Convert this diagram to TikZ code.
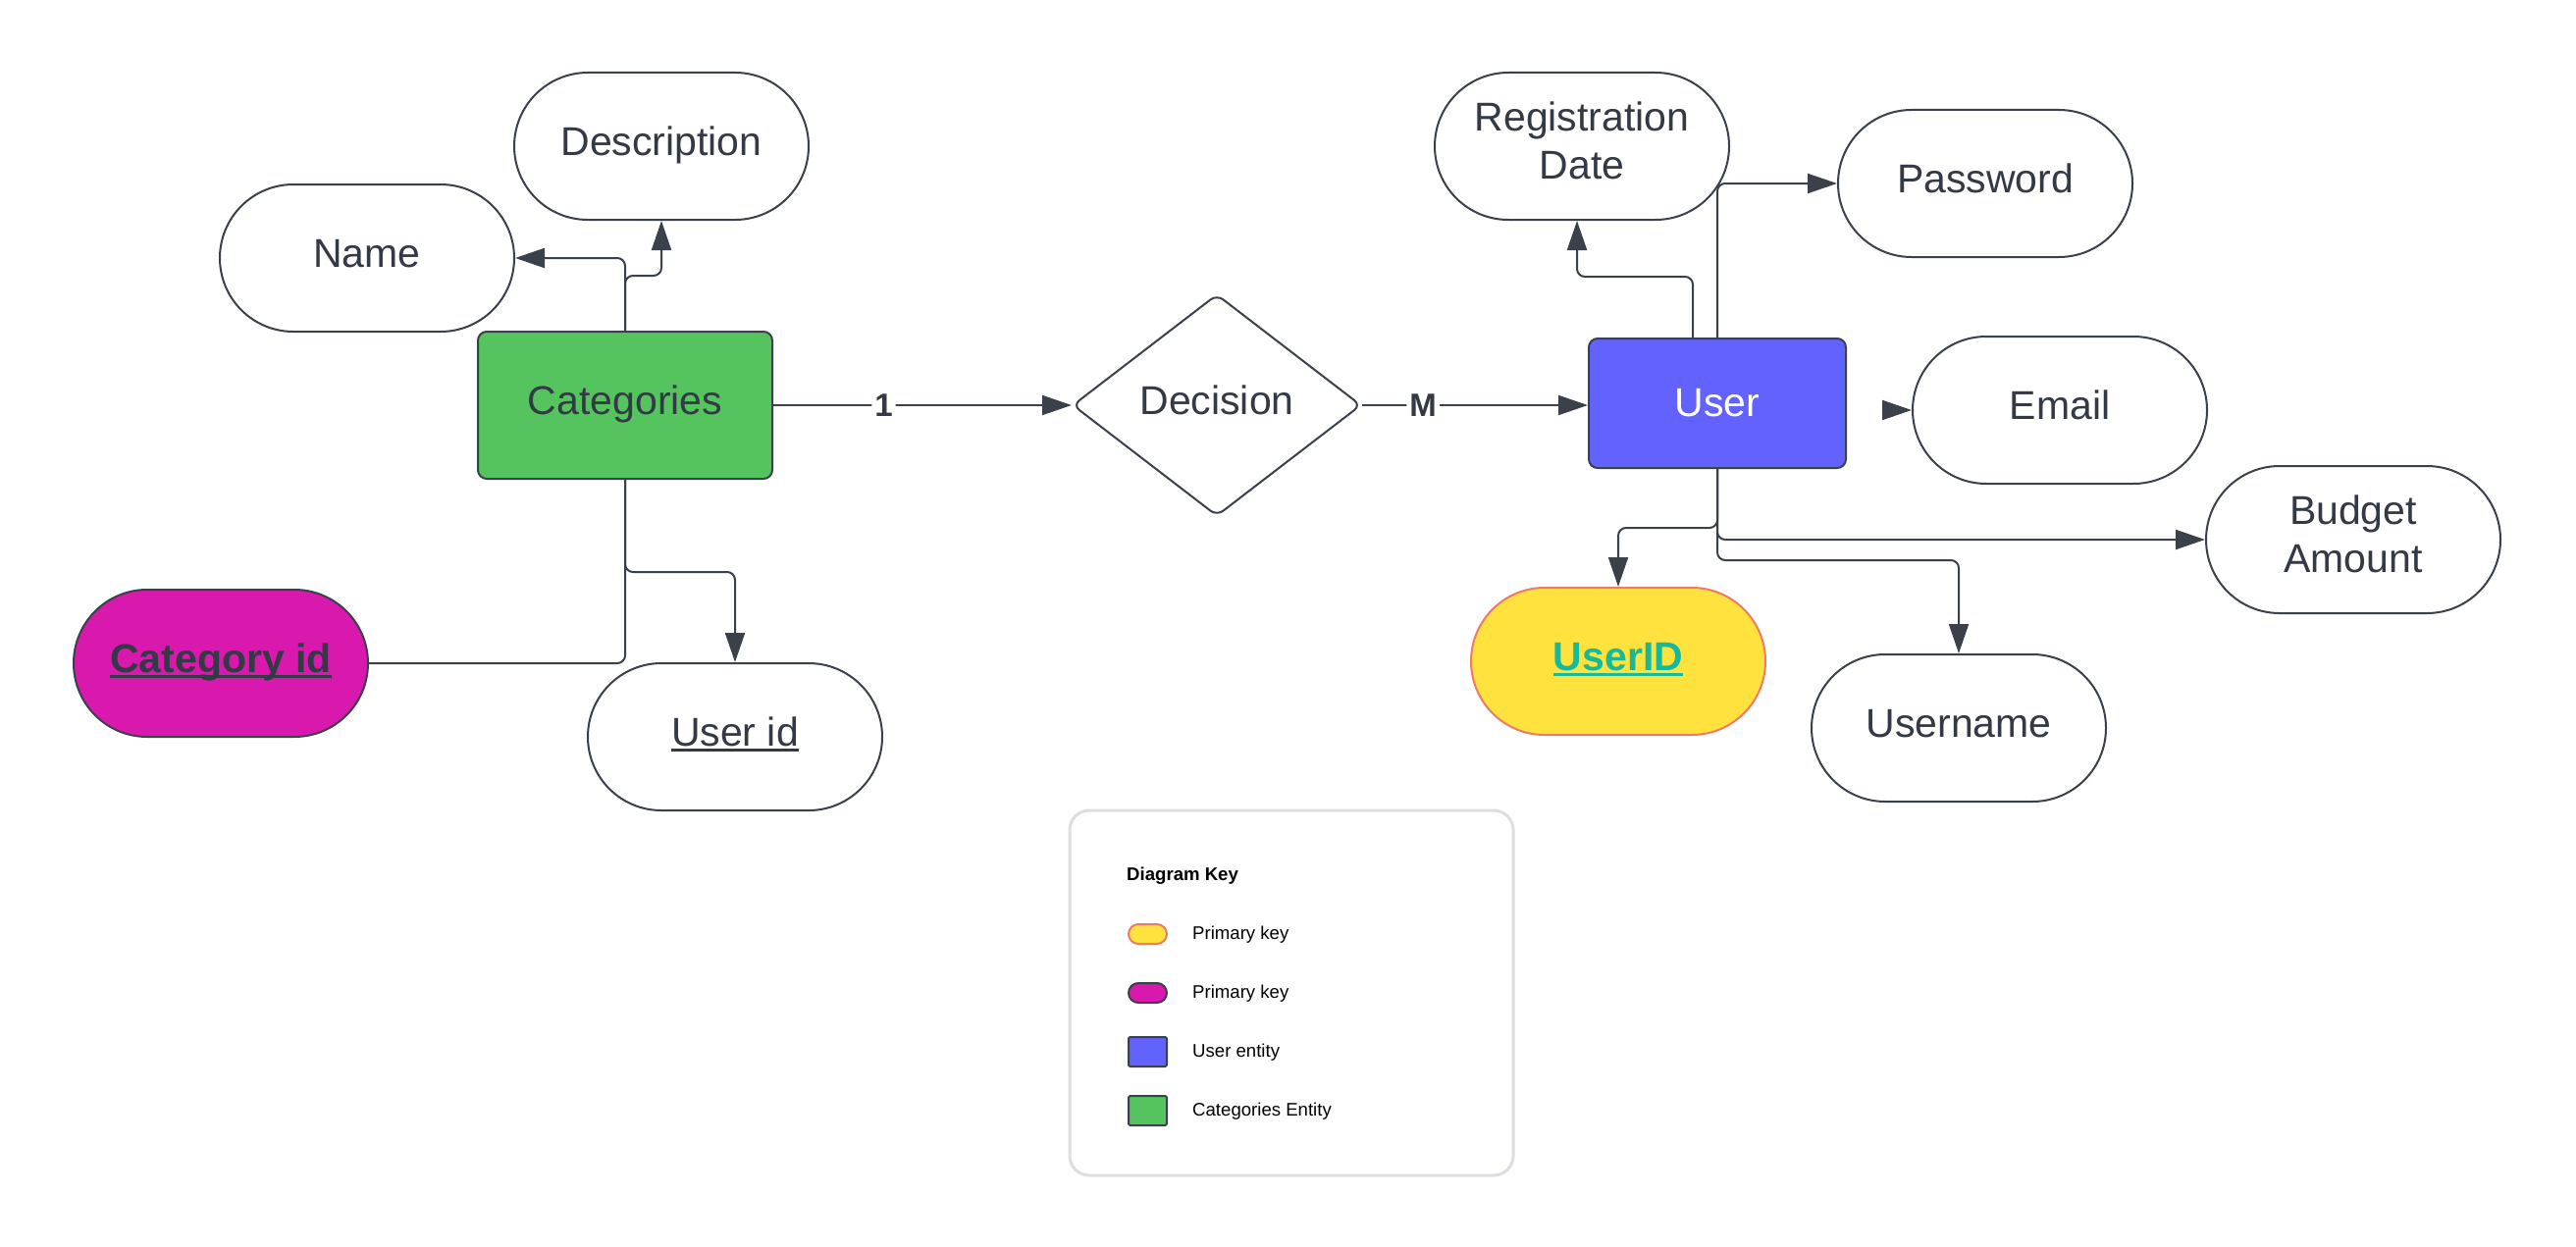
\documentclass[tikz,border=0pt]{standalone}
\usepackage{fontspec}
\setmainfont{Liberation Sans}
\usetikzlibrary{arrows.meta,shapes.geometric}
\definecolor{lncol}{HTML}{3A414A}
\definecolor{txtcol}{HTML}{333A45}
\definecolor{catgreen}{HTML}{55C45F}
\definecolor{usrblue}{HTML}{6262FF}
\definecolor{pkmag}{HTML}{D918AD}
\definecolor{pkyel}{HTML}{FFE23E}
\definecolor{pkyelbd}{HTML}{EF7B66}
\definecolor{uidteal}{HTML}{14BA9B}
\definecolor{keybd}{HTML}{DDDEE2}
\newcommand\myul[1]{\setbox0=\hbox{#1}\rlap{\rule[-6pt]{\wd0}{3pt}}\box0}
\newcommand\onest{\rule[-12pt]{0pt}{42pt}}
\newcommand\lastst{\rule[-11pt]{0pt}{11pt}}
\begin{document}
\begin{tikzpicture}[x=1pt,y=-1pt,
  base/.style={draw=lncol, line width=2pt, inner sep=0pt, align=center, text=txtcol, font=\fontsize{41}{49}\selectfont},
  attr/.style={base, fill=white, rounded corners=75pt, minimum width=300pt, minimum height=150pt},
  entity/.style={base, rounded corners=9pt, minimum width=300pt, minimum height=150pt},
  rel/.style={base, diamond, fill=white, rounded corners=8pt, minimum width=294pt, minimum height=226pt},
  conn/.style={draw=lncol, line width=2pt, rounded corners=8pt},
  arr/.style={conn, -{Triangle[length=30pt,width=20pt]}},
  card/.style={fill=white, inner sep=3pt, text=txtcol, font=\fontsize{33}{40}\selectfont\bfseries},
  keytxt/.style={anchor=base west, inner sep=0pt, text=black, font=\fontsize{18.6}{22}\selectfont},
  swatch/.style={draw=lncol, line width=2pt, minimum width=39pt, minimum height=20pt, inner sep=0pt},
]
\useasboundingbox (0,0) rectangle (2625,1271);
\fill[white] (0,0) rectangle (2625,1271);

% entities, relationship, attributes
\node[attr] (desc) at (674,149) {Description\onest};
\node[attr] (name) at (374,263) {Name\onest};
\node[entity, fill=catgreen] (cat) at (637,413) {Categories\onest};
\node[attr, fill=pkmag, font=\fontsize{41}{49}\selectfont\bfseries] (catid) at (225,676) {\myul{Category id}\onest};
\node[attr] (cuid) at (749,751) {\myul{User id}\onest};
\node[rel] (dec) at (1240,413) {Decision\onest};
\node[entity, fill=usrblue, text=white, minimum width=262pt, minimum height=132pt] (user) at (1750,411) {User};
\node[attr] (reg) at (1612,149) {Registration\\Date\lastst};
\node[attr] (pw) at (2023,187) {Password\onest};
\node[attr] (email) at (2099,418) {Email\onest};
\node[attr] (budget) at (2398,550) {Budget\\Amount\lastst};
\node[attr, fill=pkyel, draw=pkyelbd, text=uidteal, font=\fontsize{41}{49}\selectfont\bfseries] (uidu) at (1649,674) {\myul{UserID}\onest};
\node[attr] (uname) at (1996,742) {Username\onest};

% connectors
\draw[arr] (cat.north) |- (name.east);
\draw[arr] (cat.north) -- ++(0,-56) -| (desc.south);
\draw[conn] (cat.south) |- (catid.east);
\draw[arr] (cat.south) -- ++(0,94) -| (cuid.north);
\draw[arr] (cat.east) -- node[card, pos=0.37] (c1) {1} (dec.west);
\draw[arr] (dec.east) -- node[card, pos=0.27] (cm) {M} (dec.east -| user.west);
\draw[arr] ([xshift=-25pt]user.north) -- ++(0,-62) -| ([xshift=-5pt]reg.south);
\draw[arr] (user.north) |- (pw.west);
\draw[arr, shorten <=39pt] (user.east |- email.west) -- (email.west);
\draw[arr] (user.south) -- ++(0,60) -| (uidu.north);
\draw[arr] (user.south) |- (budget.west);
\draw[arr] (user.south) -- ++(0,93) -| (uname.north);

% legend
\node[draw=keybd, line width=3pt, fill=white, rounded corners=20pt, minimum width=452pt, minimum height=372pt, inner sep=0pt] (key) at (1316,1012) {};
\node[keytxt, font=\fontsize{18.6}{22}\selectfont\bfseries] (keyttl) at (1148,897) {Diagram Key};
\node[swatch, fill=pkyel, draw=pkyelbd, rounded corners=10pt] (sw1) at (1169.5,952) {};
\node[keytxt] (kt1) at (1215,957) {Primary key};
\node[swatch, fill=pkmag, rounded corners=10pt] (sw2) at (1169.5,1012) {};
\node[keytxt] (kt2) at (1215,1017) {Primary key};
\node[swatch, fill=usrblue, minimum height=30pt, rounded corners=2pt] (sw3) at (1169.5,1072) {};
\node[keytxt] (kt3) at (1215,1077) {User entity};
\node[swatch, fill=catgreen, minimum height=30pt, rounded corners=2pt] (sw4) at (1169.5,1132) {};
\node[keytxt] (kt4) at (1215,1137) {Categories Entity};
\end{tikzpicture}
\end{document}
